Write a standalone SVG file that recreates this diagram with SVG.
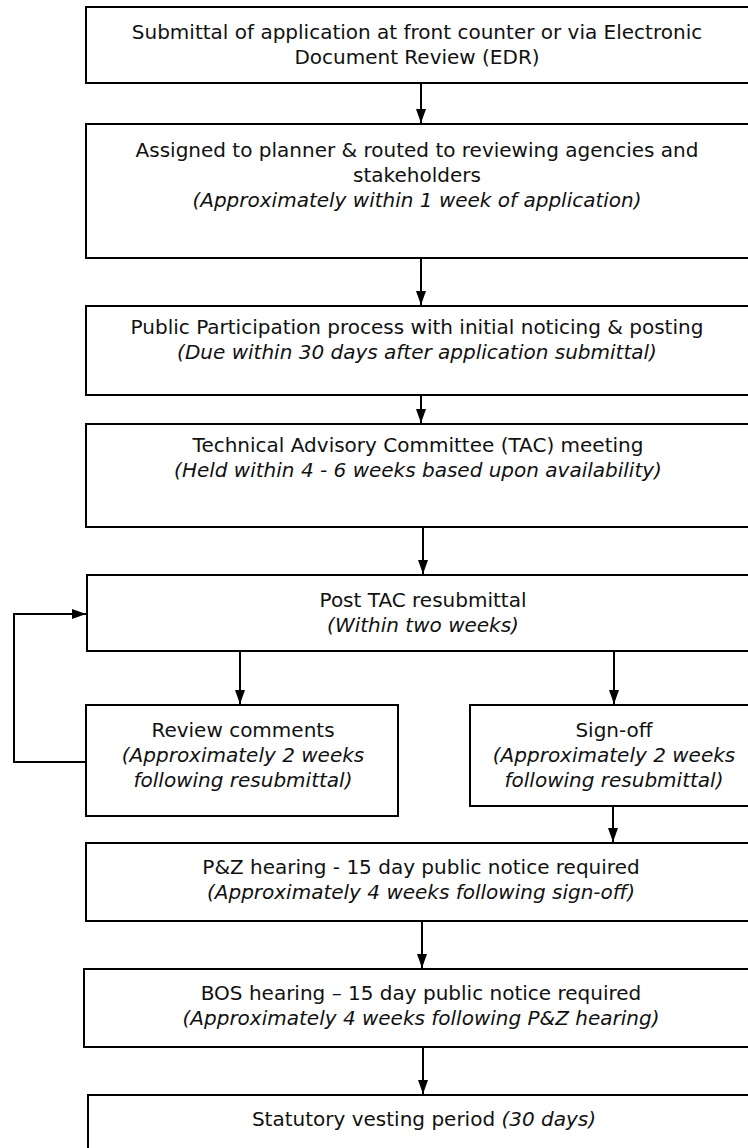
<svg xmlns="http://www.w3.org/2000/svg" width="748" height="1148" viewBox="0 0 748 1148">
<style>
.box{fill:#fff;stroke:#000;stroke-width:2}
.t{font-family:"DejaVu Sans","Liberation Sans",sans-serif;font-size:20px;fill:#111;text-anchor:middle}
.i{font-style:italic}
.c{fill:none;stroke:#000;stroke-width:2}
</style>
<defs>
<marker id="ah" viewBox="0 0 14 10" refX="14" refY="5" markerWidth="14" markerHeight="10" markerUnits="userSpaceOnUse" orient="auto">
<path d="M0,0 L14,5 L0,10 z" fill="#000"/>
</marker>
</defs>
<rect width="748" height="1148" fill="#fff"/>
<g id="connectors">
<line class="c" x1="421" y1="84" x2="421" y2="123" marker-end="url(#ah)"/>
<line class="c" x1="421" y1="259" x2="421" y2="305" marker-end="url(#ah)"/>
<line class="c" x1="421" y1="396" x2="421" y2="423" marker-end="url(#ah)"/>
<line class="c" x1="423" y1="528" x2="423" y2="574" marker-end="url(#ah)"/>
<line class="c" x1="240" y1="652" x2="240" y2="704" marker-end="url(#ah)"/>
<line class="c" x1="614" y1="652" x2="614" y2="704" marker-end="url(#ah)"/>
<line class="c" x1="613" y1="807" x2="613" y2="842" marker-end="url(#ah)"/>
<line class="c" x1="422" y1="922" x2="422" y2="968" marker-end="url(#ah)"/>
<line class="c" x1="423" y1="1048" x2="423" y2="1094" marker-end="url(#ah)"/>
<polyline class="c" points="86,762 14,762 14,614 86,614" marker-end="url(#ah)"/>
</g>
<g id="n1"><rect class="box" x="86" y="7" width="670" height="76"/>
<text class="t" x="417" y="39">Submittal of application at front counter or via Electronic</text>
<text class="t" x="417" y="64">Document Review (EDR)</text></g>
<g id="n2"><rect class="box" x="86" y="124" width="670" height="134"/>
<text class="t" x="417" y="157">Assigned to planner &amp; routed to reviewing agencies and</text>
<text class="t" x="417" y="182">stakeholders</text>
<text class="t i" x="417" y="207">(Approximately within 1 week of application)</text></g>
<g id="n3"><rect class="box" x="86" y="306" width="670" height="89"/>
<text class="t" x="417" y="334">Public Participation process with initial noticing &amp; posting</text>
<text class="t i" x="417" y="359">(Due within 30 days after application submittal)</text></g>
<g id="n4"><rect class="box" x="86" y="424" width="670" height="103"/>
<text class="t" x="418" y="452">Technical Advisory Committee (TAC) meeting</text>
<text class="t i" x="418" y="477">(Held within 4 - 6 weeks based upon availability)</text></g>
<g id="n5"><rect class="box" x="87" y="575" width="670" height="76"/>
<text class="t" x="423" y="607">Post TAC resubmittal</text>
<text class="t i" x="423" y="632">(Within two weeks)</text></g>
<g id="n6"><rect class="box" x="86" y="705" width="312" height="111"/>
<text class="t" x="243" y="737">Review comments</text>
<text class="t i" x="243" y="762">(Approximately 2 weeks</text>
<text class="t i" x="243" y="787">following resubmittal)</text></g>
<g id="n7"><rect class="box" x="470" y="705" width="290" height="101"/>
<text class="t" x="614" y="737">Sign-off</text>
<text class="t i" x="614" y="762">(Approximately 2 weeks</text>
<text class="t i" x="614" y="787">following resubmittal)</text></g>
<g id="n8"><rect class="box" x="86" y="843" width="670" height="78"/>
<text class="t" x="421" y="874">P&amp;Z hearing - 15 day public notice required</text>
<text class="t i" x="421" y="899">(Approximately 4 weeks following sign-off)</text></g>
<g id="n9"><rect class="box" x="84" y="969" width="672" height="78"/>
<text class="t" x="421" y="1000">BOS hearing – 15 day public notice required</text>
<text class="t i" x="421" y="1025">(Approximately 4 weeks following P&amp;Z hearing)</text></g>
<g id="n10"><rect class="box" x="88" y="1095" width="668" height="70"/>
<text class="t" x="424" y="1126">Statutory vesting period <tspan class="i">(30 days)</tspan></text></g>
</svg>
